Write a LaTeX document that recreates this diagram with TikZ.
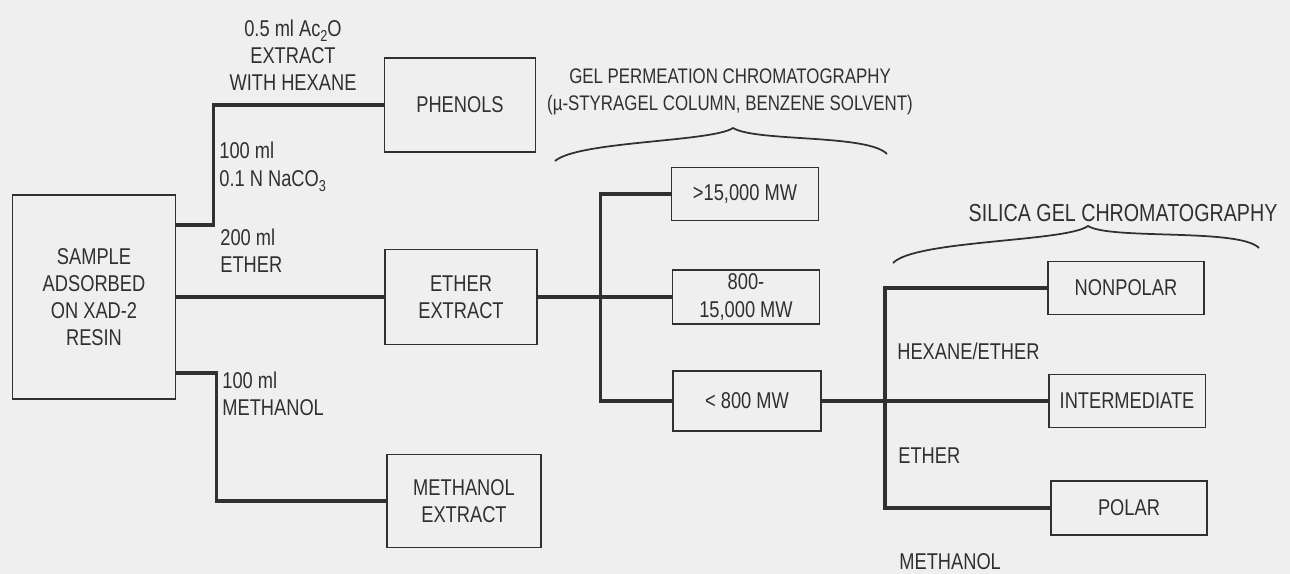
\documentclass[tikz,border=0pt]{standalone}
\usepackage{fontspec}
\setmainfont[FakeStretch=0.8]{Liberation Sans}
\definecolor{ScanInk}{HTML}{303030}
\definecolor{ScanPaper}{HTML}{EFEFEF}
\newcommand{\lowsub}[1]{\raisebox{-0.45ex}{\small #1}}

\begin{document}
\begin{tikzpicture}[x=0.02cm,y=-0.02cm,
    every node/.style={text=ScanInk,font=\fontsize{13}{15.5}\selectfont},
    box/.style={draw=ScanInk,line width=1.1pt,align=center,inner sep=1pt},
    conn/.style={ScanInk,line width=2pt},
    lbl/.style={align=left,anchor=west,inner sep=0pt},
    brace/.style={ScanInk,line width=1pt}
  ]
  \fill[ScanPaper] (0,0) rectangle (1290,574);
  \useasboundingbox (0,0) rectangle (1290,574);

  % extraction of the resin
  \node[box,minimum width=3.26cm,minimum height=4.08cm] (sample) at (94,297) {SAMPLE\\ADSORBED\\ON XAD-2\\RESIN};
  \node[box,minimum width=3.02cm,minimum height=1.88cm] (phenols) at (460,105) {PHENOLS};
  \node[box,minimum width=3.04cm,minimum height=1.9cm] (ether) at (461,297) {ETHER\\EXTRACT};
  \node[box,minimum width=3.08cm,minimum height=1.86cm] (methanol) at (464,501) {METHANOL\\EXTRACT};

  \draw[conn] ([yshift=1.44cm]sample.east) -- ++(37,0) |- (phenols.west);
  \draw[conn] (sample.east) -- (ether.west);
  \draw[conn] ([yshift=-1.52cm]sample.east) -- ++(40,0) |- (methanol.west);

  \node[align=center,inner sep=0pt] (hexlbl) at (293,55) {0.5 ml Ac\lowsub{2}O\\EXTRACT\\WITH HEXANE};
  \node[lbl] (carblbl) at (219,167) {100 ml\\0.1 N NaCO\lowsub{3}};
  \node[lbl] (ethlbl) at (220,251) {200 ml\\ETHER};
  \node[lbl] (methlbl) at (222,394) {100 ml\\METHANOL};

  % gel permeation
  \node[box,minimum width=2.94cm,minimum height=1.06cm] (big) at (745,194) {>15,000 MW};
  \node[box,minimum width=2.94cm,minimum height=1.08cm] (mid) at (746,297) {800-\\15,000 MW};
  \node[box,minimum width=2.96cm,minimum height=1.2cm] (small) at (747,401) {< 800 MW};

  \draw[conn] (ether.east) -- (mid.west);
  \draw[conn] (big.west) -- ++(-70,0) |- (small.west);

  \node[align=center,inner sep=0pt,font=\fontsize{12}{15.5}\selectfont] (gpclbl) at (730,92) {GEL PERMEATION CHROMATOGRAPHY\\(µ-STYRAGEL COLUMN, BENZENE SOLVENT)};
  \draw[brace] (555,161) .. controls (578,141) and (712,142) .. (733,128) .. controls (756,142) and (868,134) .. (887,154);

  % silica gel
  \node[box,minimum width=3.12cm,minimum height=1.06cm] (nonpolar) at (1126,288) {NONPOLAR};
  \node[box,minimum width=3.14cm,minimum height=1.06cm] (inter) at (1127,401) {INTERMEDIATE};
  \node[box,minimum width=3.12cm,minimum height=1.08cm] (polar) at (1129,508) {POLAR};

  \draw[conn] (small.east) -- (inter.west);
  \draw[conn] (nonpolar.west) -- ++(-162,0) |- (polar.west);

  \node[inner sep=0pt,font=\fontsize{14}{15.5}\selectfont] (silicalbl) at (1123,213) {SILICA GEL CHROMATOGRAPHY};
  \draw[brace] (893,263) .. controls (915,240) and (1066,242) .. (1088,226) .. controls (1110,240) and (1240,228) .. (1259,248);

  \node[lbl] (hexeth) at (897,351) {HEXANE/ETHER};
  \node[lbl] (ethonly) at (898,456) {ETHER};
  \node[lbl] (methonly) at (899,562) {METHANOL};
\end{tikzpicture}
\end{document}
